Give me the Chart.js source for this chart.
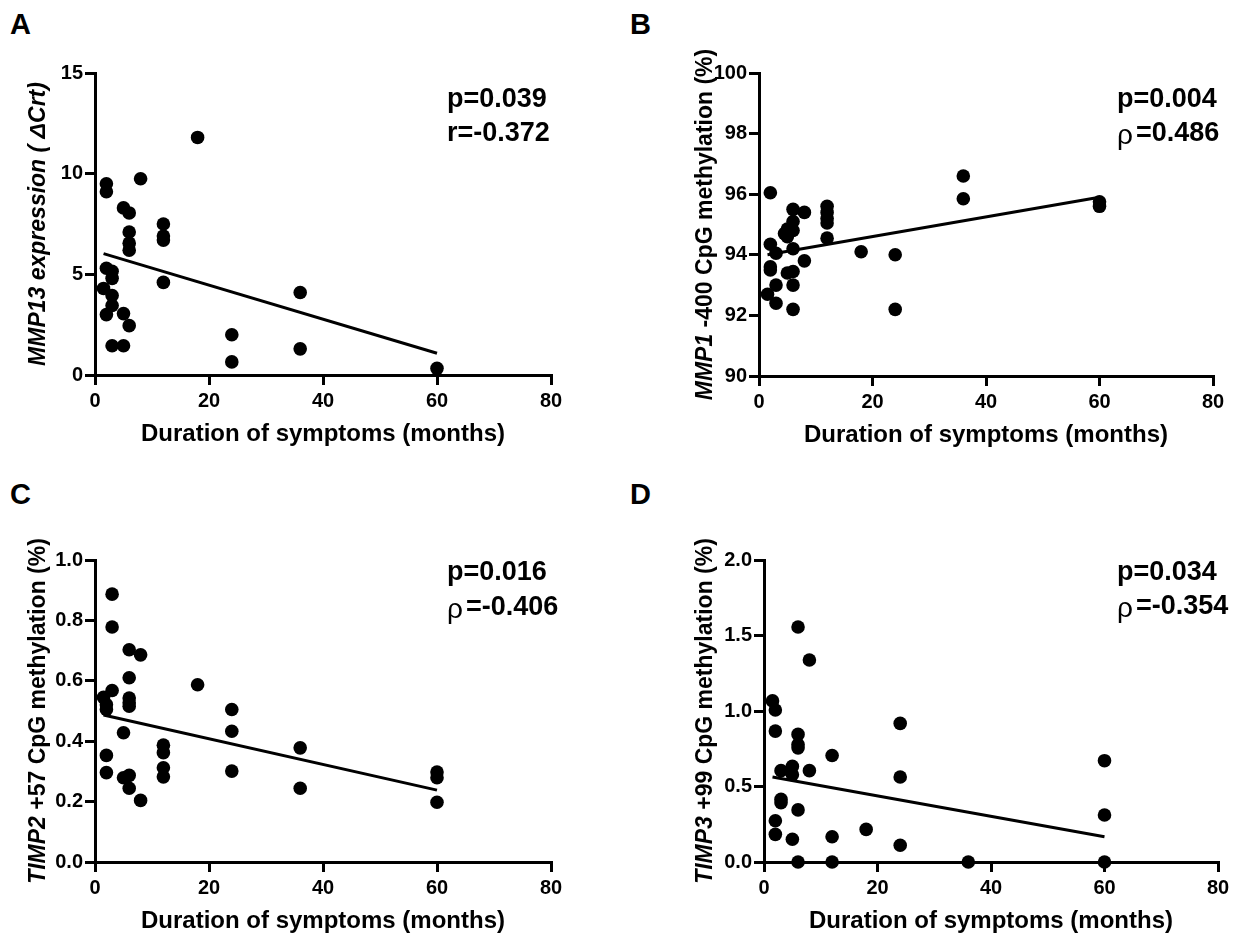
<!DOCTYPE html>
<html><head><meta charset="utf-8">
<script src="https://cdn.jsdelivr.net/npm/chart.js@4"></script>
<style>
html,body{margin:0;padding:0;background:#fff;}
#wrap{position:relative;width:1246px;height:934px;overflow:hidden;background:#fff;}
canvas{position:absolute;}
.lbl{position:absolute;font:bold 29px "Liberation Sans",Arial,sans-serif;color:#000;line-height:32px;}
</style></head>
<body><div id="wrap">
<div class="lbl" style="left:10px;top:8px">A</div>
<div class="lbl" style="left:630px;top:8px">B</div>
<div class="lbl" style="left:10px;top:478px">C</div>
<div class="lbl" style="left:630px;top:478px">D</div>
<canvas id="cA" width="623" height="467" style="left:0;top:0;width:623px;height:467px"></canvas>
<canvas id="cB" width="623" height="467" style="left:623px;top:0;width:623px;height:467px"></canvas>
<canvas id="cC" width="623" height="467" style="left:0;top:467px;width:623px;height:467px"></canvas>
<canvas id="cD" width="623" height="467" style="left:623px;top:467px;width:623px;height:467px"></canvas>
</div>
<script>
// ---- Data ----
const xTicks = [0, 20, 40, 60, 80];

// Panel A: MMP13 expression (ΔCrt) vs duration of symptoms
const A_months = [18, 2, 2, 8, 5, 6, 6, 6, 6, 12, 12, 12, 12, 2, 3, 3, 1.5, 3, 3, 2, 5, 6, 3, 5, 24, 24, 36, 36, 60];
const A_values = [11.8, 9.5, 9.1, 9.75, 8.3, 8.05, 7.1, 6.55, 6.2, 7.5, 6.9, 6.7, 4.6, 5.3, 5.15, 4.8, 4.3, 3.95, 3.45, 3.0, 3.05, 2.45, 1.45, 1.45, 2.0, 0.65, 4.1, 1.3, 0.33];
const A_fitX = [1.5, 60];
const A_fitY = [6.03, 1.08];
const A_yTicks = [0, 5, 10, 15];

// Panel B: MMP1 -400 CpG methylation (%)
const B_months = [2, 6, 8, 12, 12, 12, 12, 12, 6, 5, 6, 5, 4.5, 2, 3, 6, 18, 24, 2, 2, 8, 5, 6, 3, 6, 1.5, 3, 6, 24, 36, 36, 60, 60];
const B_values = [96.05, 95.5, 95.4, 95.6, 95.4, 95.2, 95.05, 94.55, 95.1, 94.85, 94.8, 94.6, 94.7, 94.35, 94.05, 94.2, 94.1, 94.0, 93.6, 93.5, 93.8, 93.4, 93.45, 93.0, 93.0, 92.7, 92.4, 92.2, 92.2, 96.6, 95.85, 95.75, 95.6];
const B_fitX = [1.5, 60];
const B_fitY = [94.0, 95.9];
const B_yTicks = [90, 92, 94, 96, 98, 100];

// Panel C: TIMP2 +57 CpG methylation (%)
const C_months = [3, 3, 6, 8, 6, 3, 1.5, 2, 2, 6, 6, 6, 18, 24, 24, 24, 5, 2, 2, 12, 12, 12, 12, 5, 6, 6, 8, 36, 36, 60, 60, 60];
const C_values = [0.887, 0.778, 0.703, 0.686, 0.61, 0.568, 0.545, 0.521, 0.505, 0.543, 0.527, 0.516, 0.587, 0.505, 0.433, 0.301, 0.428, 0.353, 0.296, 0.387, 0.362, 0.312, 0.282, 0.279, 0.287, 0.244, 0.204, 0.378, 0.244, 0.298, 0.279, 0.198];
const C_fitX = [1.5, 60];
const C_fitY = [0.487, 0.238];
const C_yTicks = [0, 0.2, 0.4, 0.6, 0.8, 1.0];

// Panel D: TIMP3 +99 CpG methylation (%)
const D_months = [6, 8, 1.5, 2, 2, 6, 6, 6, 24, 12, 24, 3, 5, 5, 8, 3, 3, 6, 2, 2, 5, 12, 18, 24, 6, 12, 36, 60, 60, 60];
const D_values = [1.556, 1.338, 1.067, 1.007, 0.867, 0.845, 0.778, 0.756, 0.918, 0.705, 0.563, 0.605, 0.633, 0.578, 0.605, 0.416, 0.393, 0.345, 0.273, 0.183, 0.151, 0.167, 0.216, 0.111, 0, 0, 0, 0.671, 0.311, 0];
const D_fitX = [1.5, 60];
const D_fitY = [0.563, 0.167];
const D_yTicks = [0, 0.5, 1.0, 1.5, 2.0];

// ---- Rendering ----
const FONT = '"Liberation Sans", Arial, Helvetica, sans-serif';

const annotPlugin = {
  id: 'annot',
  afterDraw(chart, args, o) {
    const ctx = chart.ctx, a = chart.chartArea;
    ctx.save();
    ctx.fillStyle = '#000';
    // rotated y-axis title with mixed italic/normal runs
    const fnt = s => (s.it ? 'italic ' : '') + 'bold ' + o.yTitleSize + 'px ' + FONT;
    let total = 0;
    o.ySegs.forEach(s => { ctx.font = fnt(s); s.w = ctx.measureText(s.t).width; total += s.w; });
    ctx.save();
    ctx.translate(o.yTitleX, (a.top + a.bottom) / 2);
    ctx.rotate(-Math.PI / 2);
    ctx.textBaseline = 'middle';
    ctx.textAlign = 'left';
    let x = -total / 2;
    o.ySegs.forEach(s => { ctx.font = fnt(s); ctx.fillText(s.t, x, 0); x += s.w; });
    ctx.restore();
    // statistics text
    ctx.textBaseline = 'middle';
    ctx.textAlign = 'left';
    o.stats.forEach((line, i) => {
      let sx = o.statX;
      const sy = o.statY[i];
      if (line.sym) {
        ctx.font = 'normal 28px ' + FONT;
        ctx.fillText(line.sym, sx, sy + 2);
        sx += ctx.measureText(line.sym).width + 3;
      }
      ctx.font = 'bold 27px ' + FONT;
      ctx.fillText(line.t, sx, sy);
    });
    ctx.restore();
  }
};

function makePanel(p) {
  const pts = p.xs.map((m, i) => ({ x: m, y: p.ys[i] }));
  const fit = p.fx.map((m, i) => ({ x: m, y: p.fy[i] }));
  const tickFont = { family: FONT, size: 20, weight: 'bold' };
  new Chart(document.getElementById(p.id), {
    type: 'scatter',
    data: {
      datasets: [
        { type: 'scatter', data: pts, pointRadius: 6.8, pointHoverRadius: 6.8, pointBackgroundColor: '#000', pointBorderWidth: 0, borderWidth: 0, clip: false },
        { type: 'line', data: fit, showLine: true, borderColor: '#000', borderWidth: 3, pointRadius: 0, fill: false, clip: false }
      ]
    },
    options: {
      responsive: false,
      animation: false,
      events: [],
      layout: { padding: { left: 0, right: p.padR, top: p.padT, bottom: p.padB } },
      plugins: {
        legend: { display: false },
        tooltip: { enabled: false },
        annot: { ySegs: p.ySegs, yTitleX: p.yTitleX, yTitleSize: 23, stats: p.stats, statX: p.statX, statY: p.statY }
      },
      scales: {
        x: {
          type: 'linear', min: 0, max: 80,
          afterBuildTicks: s => { s.ticks = xTicks.map(v => ({ value: v })); },
          afterFit: s => { s.height = 72; },
          ticks: { font: tickFont, color: '#000', padding: 4, maxRotation: 0, autoSkip: false },
          grid: { drawOnChartArea: false, drawTicks: true, tickLength: 10, lineWidth: 3, color: '#000' },
          border: { display: true, color: '#000', width: 3 },
          title: { display: true, text: 'Duration of symptoms (months)', color: '#000', font: { family: FONT, size: 24, weight: 'bold', lineHeight: 1 }, padding: { top: 0, bottom: 1 } }
        },
        y: {
          type: 'linear', min: p.yTicks[0], max: p.yTicks[p.yTicks.length - 1],
          afterBuildTicks: s => { s.ticks = p.yTicks.map(v => ({ value: v })); },
          afterFit: s => { s.width = p.left; },
          ticks: { font: tickFont, color: '#000', padding: 2, autoSkip: false, callback: v => p.fmt(v) },
          grid: { drawOnChartArea: false, drawTicks: true, tickLength: 10, lineWidth: 3, color: '#000' },
          border: { display: true, color: '#000', width: 3 }
        }
      }
    },
    plugins: [annotPlugin]
  });
}

makePanel({ id: 'cA', xs: A_months, ys: A_values, fx: A_fitX, fy: A_fitY, yTicks: A_yTicks, fmt: v => String(v),
  left: 95, padR: 72, padT: 73, padB: 20, yTitleX: 39,
  ySegs: [{ t: 'MMP13 expression ( \u0394Crt)', it: true }],
  stats: [{ t: 'p=0.039' }, { t: 'r=-0.372' }], statX: 447, statY: [100, 134] });

makePanel({ id: 'cB', xs: B_months, ys: B_values, fx: B_fitX, fy: B_fitY, yTicks: B_yTicks, fmt: v => String(v),
  left: 136, padR: 33, padT: 73, padB: 19, yTitleX: 83,
  ySegs: [{ t: 'MMP1', it: true }, { t: ' -400 CpG methylation (%)', it: false }],
  stats: [{ t: 'p=0.004' }, { sym: '\u03C1', t: '=0.486' }], statX: 494, statY: [100, 134] });

makePanel({ id: 'cC', xs: C_months, ys: C_values, fx: C_fitX, fy: C_fitY, yTicks: C_yTicks, fmt: v => v.toFixed(1),
  left: 95, padR: 72, padT: 93, padB: 0, yTitleX: 39,
  ySegs: [{ t: 'TIMP2', it: true }, { t: ' +57 CpG methylation (%)', it: false }],
  stats: [{ t: 'p=0.016' }, { sym: '\u03C1', t: '=-0.406' }], statX: 447, statY: [106, 141] });

makePanel({ id: 'cD', xs: D_months, ys: D_values, fx: D_fitX, fy: D_fitY, yTicks: D_yTicks, fmt: v => v.toFixed(1),
  left: 141, padR: 28, padT: 93, padB: 0, yTitleX: 83,
  ySegs: [{ t: 'TIMP3', it: true }, { t: ' +99 CpG methylation (%)', it: false }],
  stats: [{ t: 'p=0.034' }, { sym: '\u03C1', t: '=-0.354' }], statX: 494, statY: [106, 140] });
</script>
</body></html>
